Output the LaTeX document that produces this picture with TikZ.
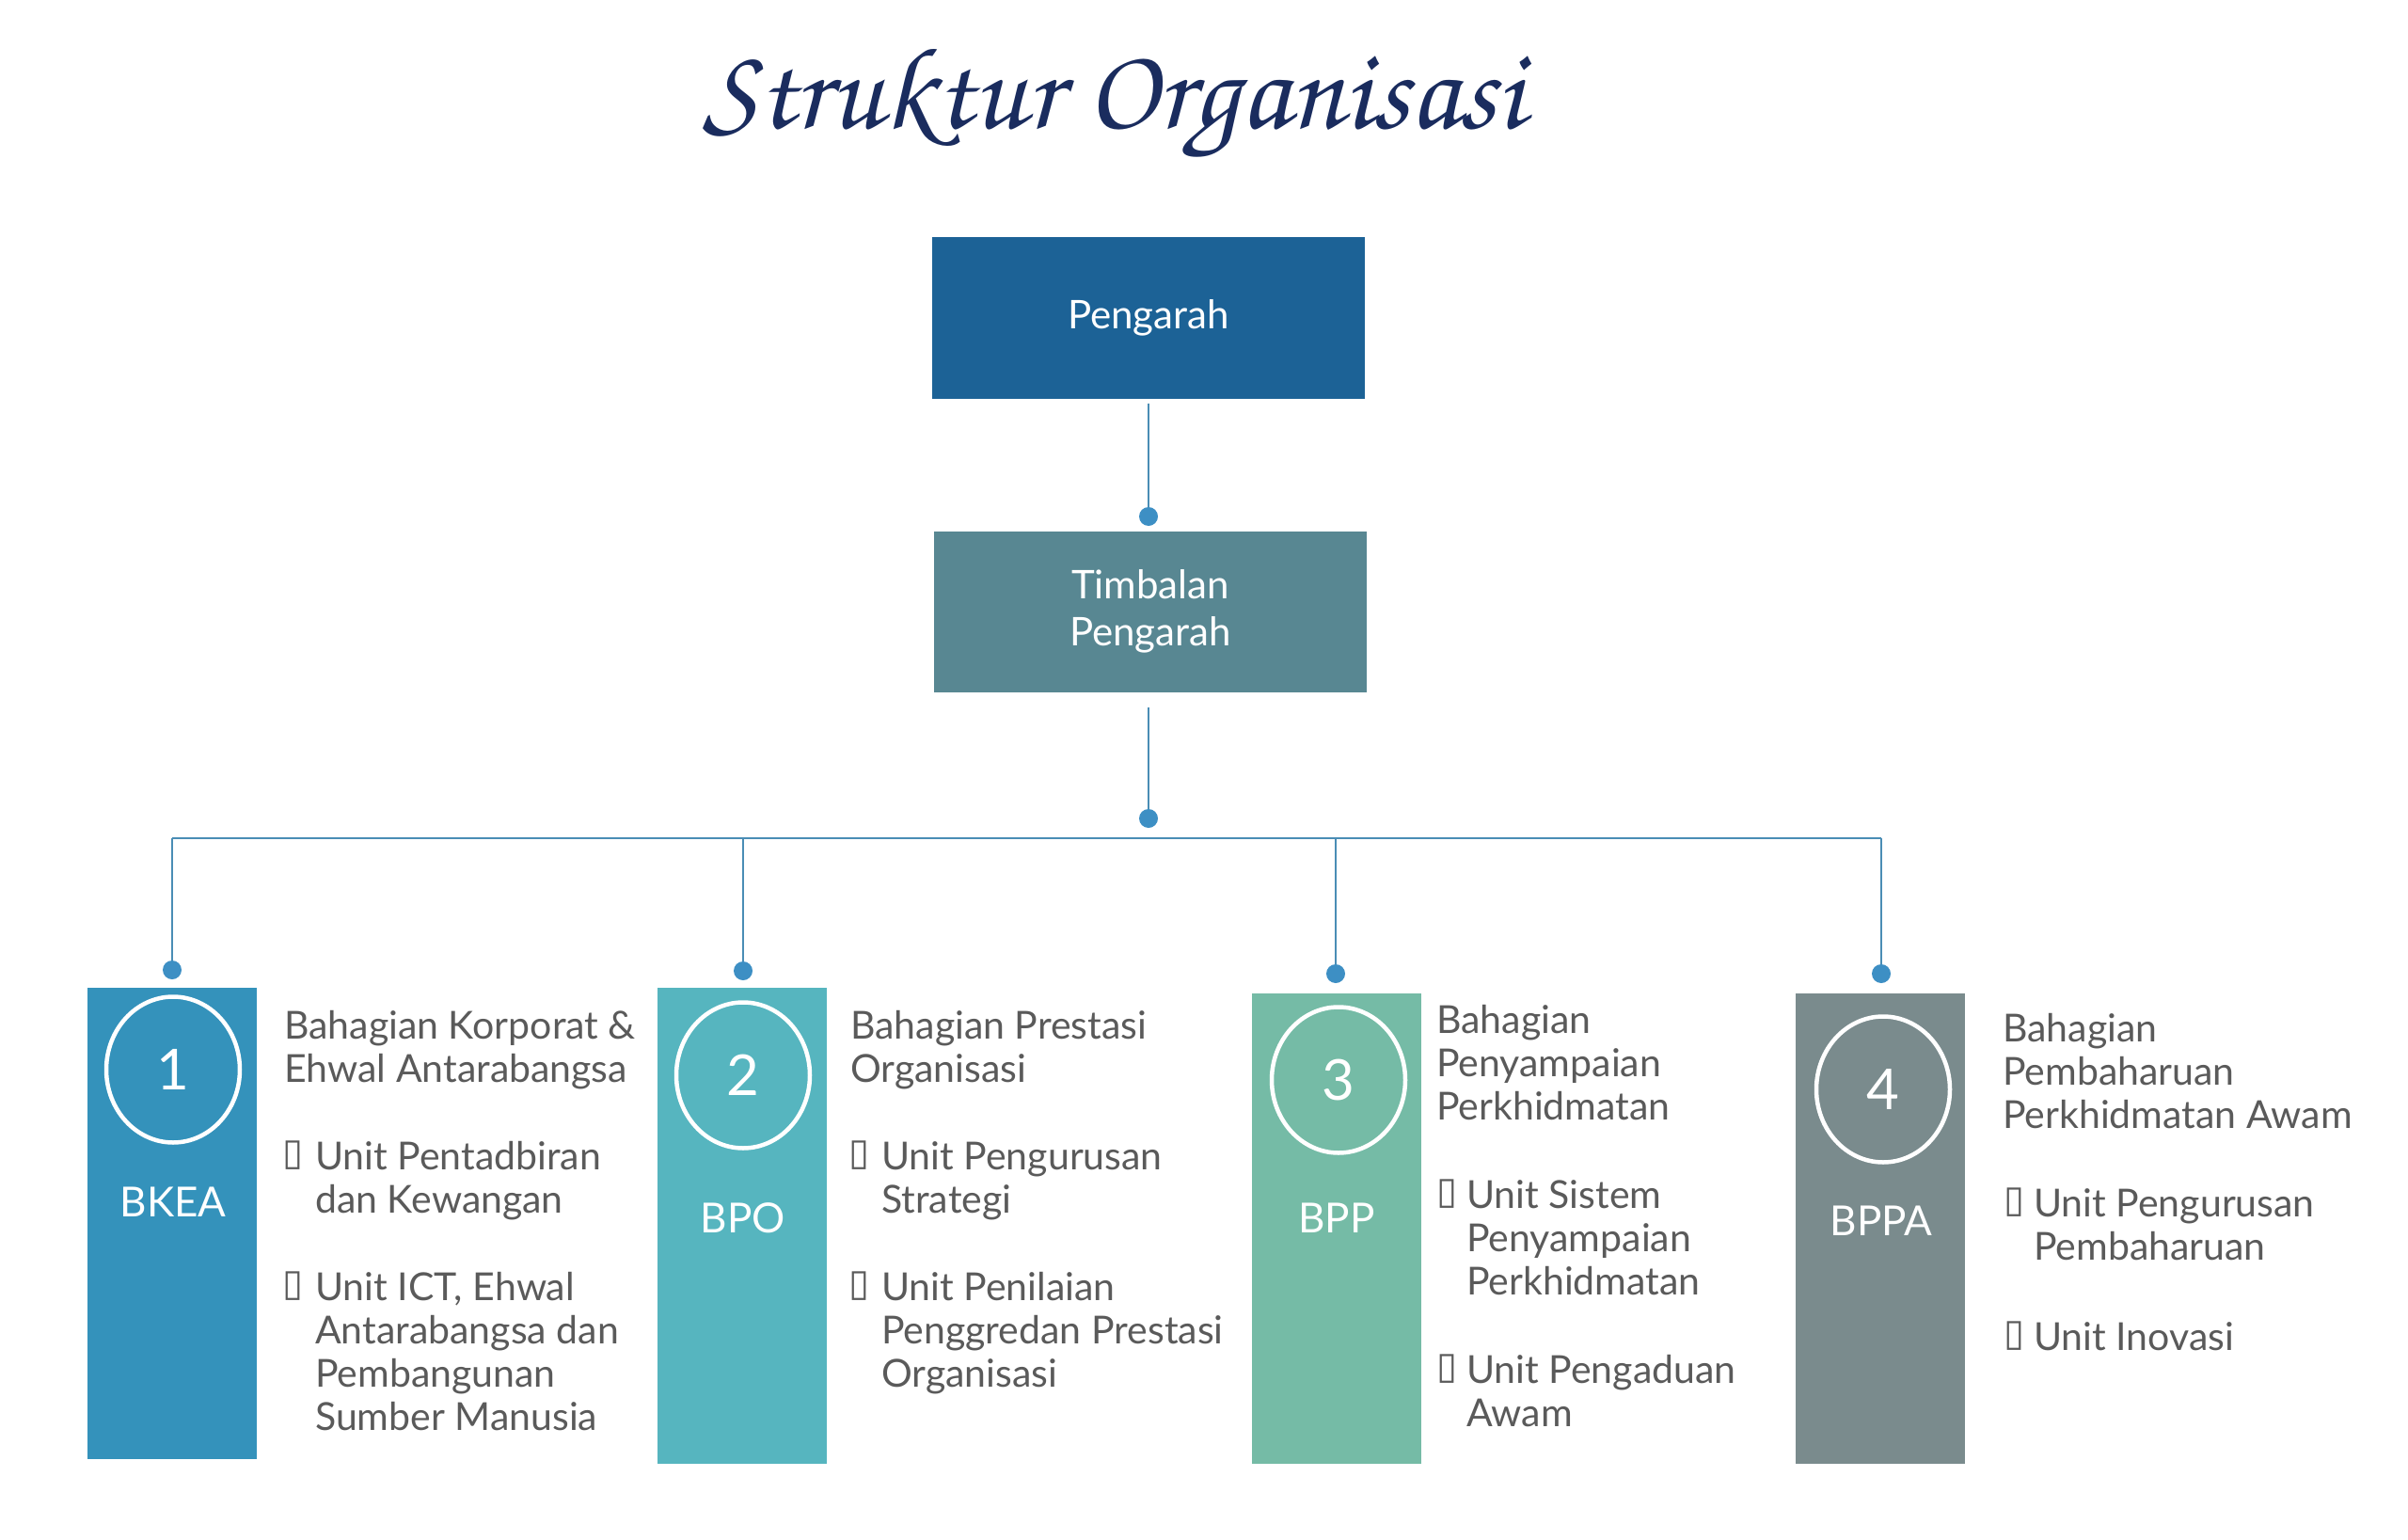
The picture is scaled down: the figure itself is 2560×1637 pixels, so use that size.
\documentclass[tikz,border=0pt]{standalone}
\usepackage[T1]{fontenc}
\usepackage{fontspec}
\usepackage{graphicx}
\setmainfont{Lato}
\newfontfamily\boxfont{DejaVu Sans}
\usetikzlibrary{shapes.geometric}
\definecolor{cPeng}{RGB}{28,98,150}
\definecolor{cTimb}{RGB}{88,135,146}
\definecolor{cOne}{RGB}{52,146,187}
\definecolor{cTwo}{RGB}{86,181,191}
\definecolor{cThree}{RGB}{117,187,166}
\definecolor{cFour}{RGB}{122,139,141}
\definecolor{cLine}{RGB}{74,141,181}
\definecolor{cDot}{RGB}{61,143,196}
\definecolor{cText}{RGB}{90,90,90}
\definecolor{cTitle}{RGB}{26,44,94}
\newcommand{\titlefont}{\fontencoding{T1}\fontfamily{pzc}\fontseries{mb}\fontshape{it}\selectfont}
\tikzset{
  topbox/.style={rectangle, inner sep=0pt, minimum width=460pt, minimum height=171pt,
    text=white, align=center, font=\fontsize{42}{50}\selectfont},
  colbox/.style={rectangle, inner sep=0pt, anchor=north west, minimum width=180pt},
  ring/.style={ellipse, draw=white, line width=4.5pt, minimum width=142pt, minimum height=155pt,
    inner sep=0pt, text=white, font=\fontsize{60}{60}\selectfont},
  abbr/.style={text=white, font=\fontsize{44}{44}\selectfont, inner sep=0pt},
  headtxt/.style={anchor=north west, align=left, inner sep=0pt, text=cText,
    font=\fontsize{41}{46}\selectfont},
  bul/.style={anchor=west, inner sep=0pt, text=cText, font=\boxfont\fontsize{40}{40}\selectfont},
  conn/.style={draw=cLine, line width=2.5pt},
  dot/.style={circle, fill=cDot, minimum size=20pt, inner sep=0pt}
}
\begin{document}
\begin{tikzpicture}[x=1pt,y=-1pt]
\useasboundingbox (0,0) rectangle (2560,1637);
% title
\node[text=cTitle, inner sep=0pt] (title) at (1184,111)
  {\resizebox{872pt}{!}{\titlefont Struktur Organisasi}};
% top boxes
\node[topbox, fill=cPeng] (peng) at (1221,338) {Pengarah};
\node[topbox, fill=cTimb] (timb) at (1223,650) {Timbalan\\Pengarah};
\node[dot] (dp1) at (1221,549) {};
\node[dot] (dp2) at (1221,870) {};
\draw[conn] ([yshift=-5pt]peng.south) -- (dp1);
\draw[conn] ([yshift=-16pt]timb.south -| dp2) -- (dp2);
% bus
\coordinate (b1) at (183,891);
\coordinate (b2) at (790,891);
\coordinate (b3) at (1420,891);
\coordinate (b4) at (2000,891);
\draw[conn] (b1) -- (b4);
\node[dot] (dk1) at (183,1031) {};
\node[dot] (dk2) at (790,1032) {};
\node[dot] (dk3) at (1420,1035) {};
\node[dot] (dk4) at (2000,1035) {};
\draw[conn] (b1) -- (dk1);
\draw[conn] (b2) -- (dk2);
\draw[conn] (b3) -- (dk3);
\draw[conn] (b4) -- (dk4);
% column boxes
\node[colbox, fill=cOne, minimum height=501pt] (c1) at (93,1050) {};
\node[colbox, fill=cTwo, minimum height=506pt] (c2) at (699,1050) {};
\node[colbox, fill=cThree, minimum height=500pt] (c3) at (1331,1056) {};
\node[colbox, fill=cFour, minimum height=500pt] (c4) at (1909,1056) {};
\node[ring] (r1) at (184,1137) {1};
\node[ring] (r2) at (790,1143) {2};
\node[ring] (r3) at (1423,1148) {3};
\node[ring] (r4) at (2002,1158) {4};
\node[abbr] (a1) at (184,1278) {BKEA};
\node[abbr] (a2) at (790,1295) {BPO};
\node[abbr] (a3) at (1421,1295) {BPP};
\node[abbr] (a4) at (2000,1298) {BPPA};
% column 1 text
\node[headtxt] (h1) at (302,1074) {Bahagian Korporat \&\\Ehwal Antarabangsa};
\node[bul] (u1a) at (300,1228) {▯};
\node[headtxt] (t1a) at (335,1213) {Unit Pentadbiran\\dan Kewangan};
\node[bul] (u1b) at (300,1367) {▯};
\node[headtxt] (t1b) at (335,1352) {Unit ICT, Ehwal\\Antarabangsa dan\\Pembangunan\\Sumber Manusia};
% column 2 text
\node[headtxt] (h2) at (904,1074) {Bahagian Prestasi\\Organisasi};
\node[bul] (u2a) at (902,1228) {▯};
\node[headtxt] (t2a) at (937,1213) {Unit Pengurusan\\Strategi};
\node[bul] (u2b) at (902,1367) {▯};
\node[headtxt] (t2b) at (937,1352) {Unit Penilaian\\Penggredan Prestasi\\Organisasi};
% column 3 text
\node[headtxt] (h3) at (1527,1068) {Bahagian\\Penyampaian\\Perkhidmatan};
\node[bul] (u3a) at (1527,1269) {▯};
\node[headtxt] (t3a) at (1559,1254) {Unit Sistem\\Penyampaian\\Perkhidmatan};
\node[bul] (u3b) at (1527,1455) {▯};
\node[headtxt] (t3b) at (1559,1440) {Unit Pengaduan\\Awam};
% column 4 text
\node[headtxt] (h4) at (2129,1077) {Bahagian\\Pembaharuan\\Perkhidmatan Awam};
\node[bul] (u4a) at (2130,1278) {▯};
\node[headtxt] (t4a) at (2162,1263) {Unit Pengurusan\\Pembaharuan};
\node[bul] (u4b) at (2130,1420) {▯};
\node[headtxt] (t4b) at (2162,1405) {Unit Inovasi};
\end{tikzpicture}
\end{document}
